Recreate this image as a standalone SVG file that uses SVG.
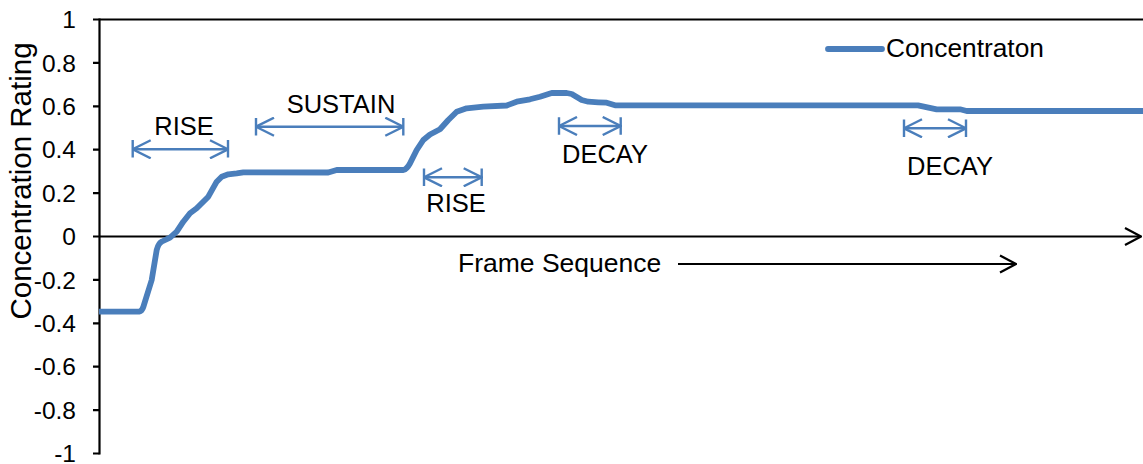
<svg xmlns="http://www.w3.org/2000/svg" width="1143" height="464" viewBox="0 0 1143 464">
<style>
text{font-family:"Liberation Sans",Arial,sans-serif;fill:#000}
.tick{font-size:24.5px;text-anchor:end}
.lbl{font-size:25.5px;text-anchor:middle}
.ax{stroke:#000;stroke-width:2.2;fill:none}
.ann{stroke:#4a7ebb;stroke-width:2.4;fill:none}
.curve{stroke:#4a7ebb;stroke-width:5.8;fill:none;stroke-linejoin:round;stroke-linecap:butt}
</style>
<defs>
<marker id="open" viewBox="0 0 20 20" refX="19" refY="10" markerWidth="20" markerHeight="20" markerUnits="userSpaceOnUse" orient="auto-start-reverse">
<path d="M1,1 L19,10 L1,19" fill="none" stroke="#4a7ebb" stroke-width="2.4"/>
</marker>
<marker id="blk" viewBox="0 0 18 20" refX="17" refY="10" markerWidth="18" markerHeight="20" markerUnits="userSpaceOnUse" orient="auto">
<path d="M1,1.5 L17,10 L1,18.5" fill="none" stroke="#000" stroke-width="2.2"/>
</marker>
</defs>
<rect width="1143" height="464" fill="#fff"/>
<g id="axes">
<line class="ax" x1="93" y1="19.5" x2="1143" y2="19.5"/>
<line class="ax" x1="99.5" y1="18.5" x2="99.5" y2="454.5"/>
<line class="ax" x1="99.5" y1="236.5" x2="1141" y2="236.5" marker-end="url(#blk)"/>
<path class="ax" d="M93,62.9H99.5M93,106.3H99.5M93,149.7H99.5M93,193.1H99.5M93,236.5H99.5M93,279.9H99.5M93,323.3H99.5M93,366.7H99.5M93,410.1H99.5M93,453.5H99.5"/>
</g>
<g id="ticklabels">
<text class="tick" x="76" y="28.2">1</text>
<text class="tick" x="76" y="71.6">0.8</text>
<text class="tick" x="76" y="115">0.6</text>
<text class="tick" x="76" y="158.4">0.4</text>
<text class="tick" x="76" y="201.8">0.2</text>
<text class="tick" x="76" y="245.2">0</text>
<text class="tick" x="76" y="288.6">-0.2</text>
<text class="tick" x="76" y="332">-0.4</text>
<text class="tick" x="76" y="375.4">-0.6</text>
<text class="tick" x="76" y="418.8">-0.8</text>
<text class="tick" x="76" y="461.5">-1</text>
</g>
<text id="ytitle" x="0" y="0" font-size="29.5" text-anchor="middle" transform="translate(31,181) rotate(-90)">Concentration Rating</text>
<g id="series">
<path class="curve" d="M99,311.7 L139,311.7 Q142,311 143.3,307 L151.7,280 L156.7,250 Q158.5,243 162,241.5 L170,237.7 L176.7,231.7 L183.3,221.7 L190,213.3 L196.7,208.3 L208.3,196.7 L216.7,181.7 L221.7,176.7 L228.3,174.3 L236.7,173.3 L243.3,172.3 L328.3,172.5 L336.7,170 L403.3,170 Q407,169 410,163.3 L416.7,150 L423.3,140 L430,134.5 L440,129.3 L448.3,120 L456.7,111.7 L466.7,108.3 L483.3,106.7 L506.7,105.5 L516.7,101.7 L530,99.3 L540,96.7 L551.7,93 L566.7,93 L571.7,94 L581.7,100 L588.3,101.7 L598.3,102.3 L606.7,102.7 L615,105.3 L918,105.3 L936.7,109.3 L960,109.3 L966.7,111 L1143,111"/>
</g>
<g id="legend">
<line x1="828" y1="49" x2="882" y2="49" stroke="#4a7ebb" stroke-width="5.8" stroke-linecap="round"/>
<text x="886" y="57.3" font-size="26.3">Concentraton</text>
</g>
<g id="connectors">
<g id="rise1">
<line class="ann" x1="132.7" y1="149.3" x2="228" y2="149.3" marker-start="url(#open)" marker-end="url(#open)"/>
<path class="ann" d="M132.7,140V157.5M228,140V157.5"/>
</g>
<g id="sustain">
<line class="ann" x1="256" y1="126.7" x2="403.3" y2="126.7" marker-start="url(#open)" marker-end="url(#open)"/>
<path class="ann" d="M256,118V135.5M403.3,118V135.5"/>
</g>
<g id="rise2">
<line class="ann" x1="424" y1="177.3" x2="481.7" y2="177.3" marker-start="url(#open)" marker-end="url(#open)"/>
<path class="ann" d="M424,168.5V186M481.7,168.5V186"/>
</g>
<g id="decay1">
<line class="ann" x1="559" y1="126" x2="620.7" y2="126" marker-start="url(#open)" marker-end="url(#open)"/>
<path class="ann" d="M559,117.3V134.7M620.7,117.3V134.7"/>
</g>
<g id="decay2">
<line class="ann" x1="904" y1="128.3" x2="966" y2="128.3" marker-start="url(#open)" marker-end="url(#open)"/>
<path class="ann" d="M904,119.5V137M966,119.5V137"/>
</g>
<line id="frame-arrow" class="ax" x1="678" y1="264" x2="1016" y2="264" marker-end="url(#blk)"/>
</g>
<g id="labels">
<text class="lbl" x="184" y="135">RISE</text>
<text class="lbl" x="341" y="113.3">SUSTAIN</text>
<text class="lbl" x="456" y="211.7">RISE</text>
<text class="lbl" x="605" y="163.3">DECAY</text>
<text class="lbl" x="950" y="175">DECAY</text>
<text x="458" y="272" font-size="26.5">Frame Sequence</text>
</g>
</svg>
